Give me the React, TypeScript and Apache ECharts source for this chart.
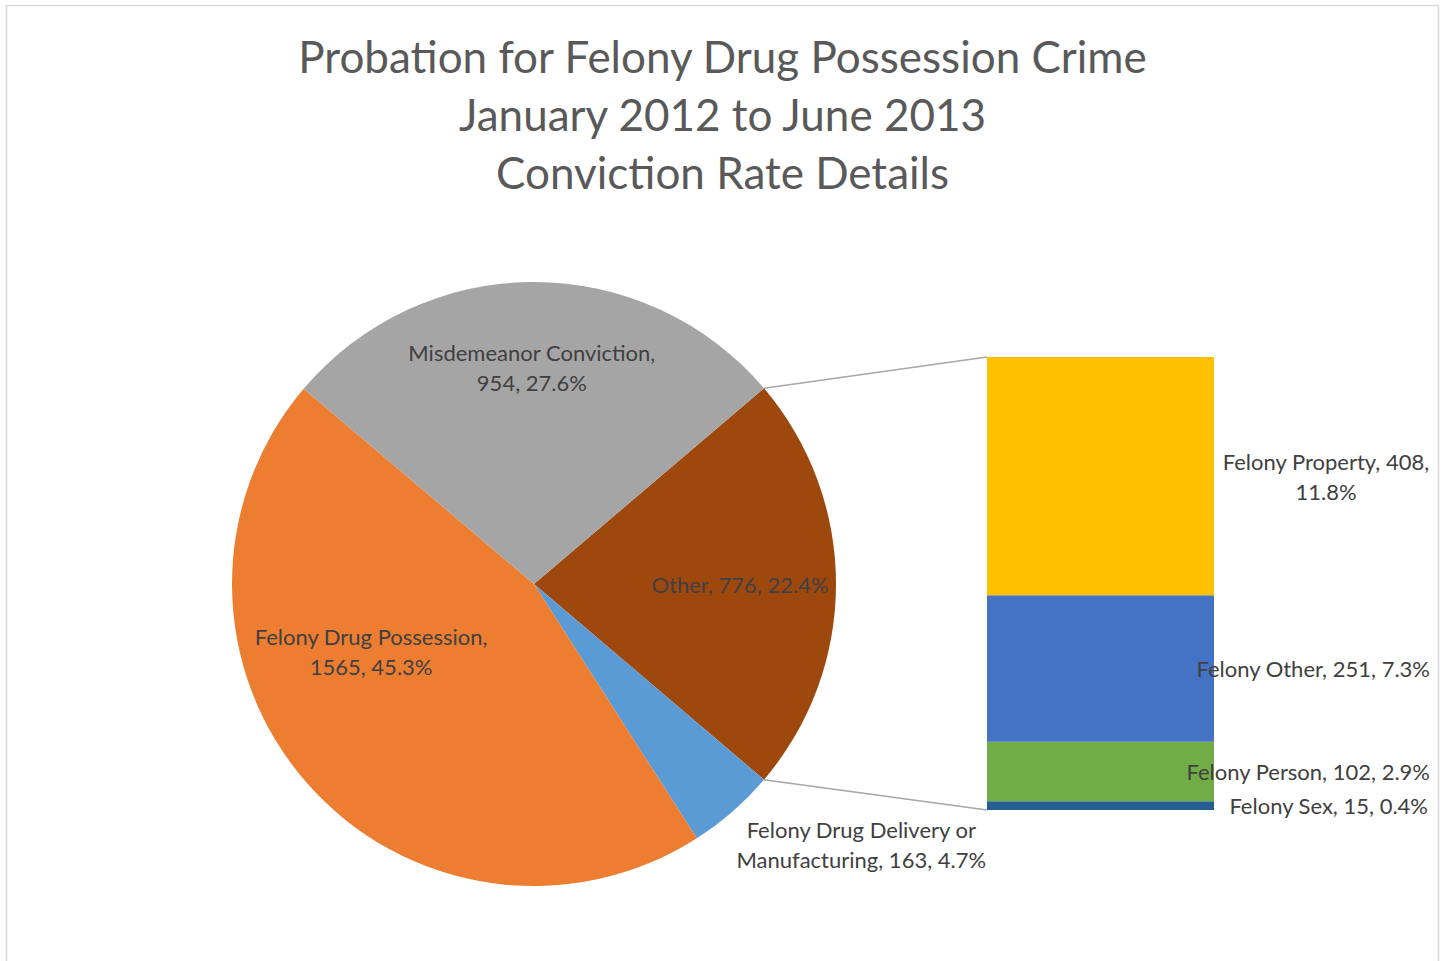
import React, { useEffect, useRef } from "react";
import * as echarts from "echarts";

const titleLines = [
  "Probation for Felony Drug Possession Crime",
  "January 2012 to June 2013",
  "Conviction Rate Details",
];

// Pie (clockwise from the "Other" slice)
const pieNames = ["Other", "Felony Drug Delivery or Manufacturing", "Felony Drug Possession", "Misdemeanor Conviction"];
const pieValues = [776, 163, 1565, 954];
const pieColors = ["#9E480E", "#5B9BD5", "#ED7D31", "#A5A5A5"];

// Breakdown of "Other" (bottom to top)
const barNames = ["Felony Sex", "Felony Person", "Felony Other", "Felony Property"];
const barValues = [15, 102, 251, 408];
const barColors = ["#255E91", "#70AD47", "#4472C4", "#FFC000"];

const FONT = "Lato, 'Open Sans', sans-serif";
const TXT = "#404040";

export default function App() {
  const ref = useRef<HTMLDivElement>(null);

  useEffect(() => {
    if (!ref.current) return;
    const chart = echarts.init(ref.current, undefined, { renderer: "svg" });
    const total = pieValues.reduce((a, b) => a + b, 0);
    const barMax = barValues.reduce((a, b) => a + b, 0);
    const pct = (v: number) => ((v / total) * 100).toFixed(1) + "%";
    const otherAngle = (pieValues[0] / total) * 360;

    const cx = 534, cy = 584, R = 302;
    const gLeft = 987, gTop = 357, gW = 227, gH = 453;

    const pieLabel = (i: number) => {
      const n = pieNames[i], v = pieValues[i], p = pct(v);
      if (i === 0) return `${n}, ${v}, ${p}`;
      if (i === 1) return `Felony Drug Delivery or\nManufacturing, ${v}, ${p}`;
      return `${n},\n${v}, ${p}`;
    };
    const pieOffsets = [
      [52, 0],
      [226, 144],
      [-47, -34],
      [-2, -63],
    ];

    const barLabelPos: any[] = [
      [441, "50%"],
      [443, "50%"],
      [443, "50%"],
      [339, "50%"],
    ];

    // connector lines from the pie's "Other" slice edges to the bar's top and bottom
    const a = (otherAngle / 2) * Math.PI / 180;
    const px = cx + R * Math.cos(a);
    const pyTop = cy - R * Math.sin(a);
    const pyBot = cy + R * Math.sin(a);

    const option: any = {
      animation: false,
      backgroundColor: "#ffffff",
      title: {
        text: titleLines.join("\n"),
        left: "center",
        top: 22,
        textStyle: { fontFamily: FONT, fontSize: 44, fontWeight: "normal", color: "#595959", lineHeight: 58 },
      },
      grid: { left: gLeft, top: gTop, width: gW, height: gH },
      xAxis: { type: "category", data: ["Other"], show: false },
      yAxis: { type: "value", min: 0, max: barMax, show: false },
      series: [
        {
          type: "pie",
          center: [cx, cy],
          radius: R,
          startAngle: otherAngle / 2,
          clockwise: true,
          silent: true,
          itemStyle: { borderWidth: 0 },
          label: {
            show: true,
            position: "inside",
            formatter: (p: any) => pieLabel(p.dataIndex),
            color: TXT,
            fontFamily: FONT,
            fontSize: 22,
            lineHeight: 30,
            align: "center",
          },
          labelLayout: (p: any) => ({ dx: pieOffsets[p.dataIndex][0], dy: pieOffsets[p.dataIndex][1] }),
          labelLine: { show: false },
          data: pieNames.map((n, i) => ({ name: n, value: pieValues[i], itemStyle: { color: pieColors[i] } })),
        },
        ...barNames.map((n, i) => ({
          type: "bar",
          name: n,
          stack: "other",
          barWidth: "100%",
          silent: true,
          itemStyle: { color: barColors[i] },
          label: {
            show: true,
            position: barLabelPos[i],
            align: i === 3 ? "center" : "right",
            verticalAlign: "middle",
            formatter: i === 3 ? `${n}, ${barValues[i]},\n${pct(barValues[i])}` : `${n}, ${barValues[i]}, ${pct(barValues[i])}`,
            color: TXT,
            fontFamily: FONT,
            fontSize: 22,
            lineHeight: 30,
          },
          data: [barValues[i]],
        })),
      ],
      graphic: [
        {
          type: "rect",
          silent: true,
          shape: { x: 6.5, y: 5.5, width: 1432, height: 1100 },
          style: { fill: "none", stroke: "#D9D9D9", lineWidth: 1.5 },
        },
        {
          type: "line", silent: true,
          shape: { x1: px, y1: pyTop, x2: gLeft, y2: gTop },
          style: { stroke: "#A6A6A6", lineWidth: 1.5 },
        },
        {
          type: "line", silent: true,
          shape: { x1: px, y1: pyBot, x2: gLeft, y2: gTop + gH },
          style: { stroke: "#A6A6A6", lineWidth: 1.5 },
        },
      ],
    };
    chart.setOption(option);

    return () => chart.dispose();
  }, []);

  return <div ref={ref} style={{ position: "fixed", left: 0, top: 0, width: 1445, height: 961 }} />;
}
